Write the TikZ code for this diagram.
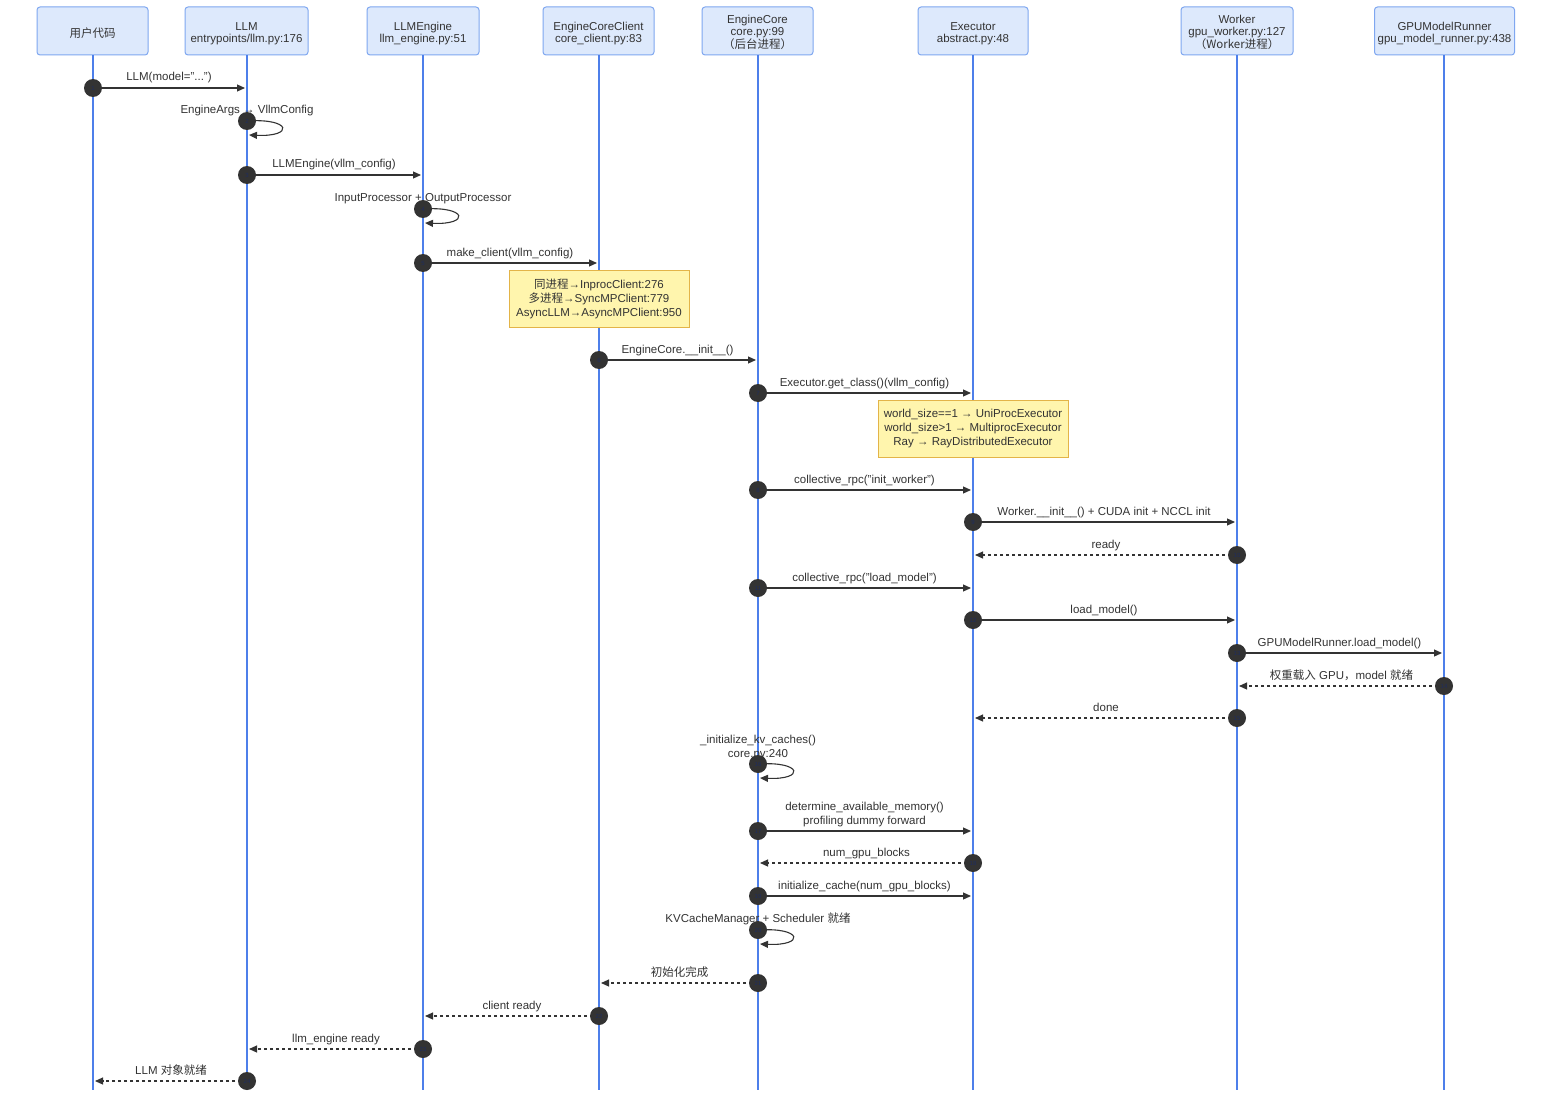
\documentclass[tikz,border=0pt]{standalone}
\usepackage{fontspec}
\setmainfont{Liberation Sans}
\newfontfamily\cjk{Noto Sans CJK SC}
\usetikzlibrary{arrows.meta}
\definecolor{hdrfill}{HTML}{DDE9FC}
\definecolor{hdrdraw}{HTML}{7FA7F0}
\definecolor{lifec}{HTML}{4D7FEA}
\definecolor{ink}{HTML}{333333}
\definecolor{notefill}{HTML}{FFF5AD}
\definecolor{notedraw}{HTML}{E3B448}
\definecolor{numc}{HTML}{1F2D5E}
\tikzset{
  hdr/.style={draw=hdrdraw, fill=hdrfill, rounded corners=3pt, line width=1pt, minimum height=48pt, inner sep=0pt},
  hdrtxt/.style={align=center, font=\fontsize{11.5}{12}\selectfont, text=ink, inner sep=0pt},
  life/.style={draw=lifec, line width=1.5pt},
  dotn/.style={circle, fill=ink, minimum size=18pt, inner sep=0pt, font=\fontsize{6}{6}\selectfont, text=numc},
  msg/.style={draw=ink, line width=1.1pt, -{Triangle[length=8pt,width=7pt]}},
  rep/.style={msg, dash pattern=on 3pt off 3pt},
  lbl/.style={font=\fontsize{11.5}{14}\selectfont, text=ink, align=center, inner sep=0pt, anchor=base},
  lbl2/.style={font=\fontsize{11.5}{14}\selectfont, text=ink, align=center, inner sep=0pt},
  note/.style={draw=notedraw, fill=notefill, line width=1pt, align=center, font=\fontsize{11.5}{14}\selectfont, text=ink, inner sep=0pt, minimum height=57pt}
}
\begin{document}
\begin{tikzpicture}[x=1pt,y=-1pt]
\useasboundingbox[fill=white] (0,0) rectangle (1568,1102);
% participants
\node[hdr, minimum width=111pt] (user) at (92.5,31) {};
\node[hdr, minimum width=123pt] (llm) at (246.5,31) {};
\node[hdr, minimum width=112pt] (eng) at (423,31) {};
\node[hdr, minimum width=111pt] (ecc) at (598.5,31) {};
\node[hdr, minimum width=111pt] (ec) at (757.5,31) {};
\node[hdr, minimum width=110pt] (exe) at (973,31) {};
\node[hdr, minimum width=112pt] (wk) at (1237,31) {};
\node[hdr, minimum width=140pt] (gmr) at (1444.5,31) {};
\node[hdrtxt] (userT) at ([yshift=-2pt]user.center) {{\cjk 用户代码}};
\node[hdrtxt] (llmT) at ([yshift=-2.5pt]llm.center) {LLM\\entrypoints/llm.py:176};
\node[hdrtxt] (engT) at ([yshift=-2.5pt]eng.center) {LLMEngine\\llm\_engine.py:51};
\node[hdrtxt] (eccT) at ([yshift=-2.5pt]ecc.center) {EngineCoreClient\\core\_client.py:83};
\node[hdrtxt] (ecT) at ([yshift=-1.5pt]ec.center) {EngineCore\\core.py:99\\{\cjk （后台进程）}};
\node[hdrtxt] (exeT) at ([yshift=-2.5pt]exe.center) {Executor\\abstract.py:48};
\node[hdrtxt] (wkT) at ([yshift=-1.5pt]wk.center) {Worker\\gpu\_worker.py:127\\{\cjk （Worker进程）}};
\node[hdrtxt] (gmrT) at ([yshift=-2.5pt]gmr.center) {GPUModelRunner\\gpu\_model\_runner.py:438};
% lifelines
\coordinate (userB) at (93,1090);
\coordinate (llmB) at (247,1090);
\coordinate (engB) at (423,1090);
\coordinate (eccB) at (599,1090);
\coordinate (ecB) at (758,1090);
\coordinate (exeB) at (973,1090);
\coordinate (wkB) at (1237,1090);
\coordinate (gmrB) at (1444,1090);
\draw[life] (userB |- user.south) -- (userB);
\draw[life] (llmB |- llm.south) -- (llmB);
\draw[life] (engB |- eng.south) -- (engB);
\draw[life] (eccB |- ecc.south) -- (eccB);
\draw[life] (ecB |- ec.south) -- (ecB);
\draw[life] (exeB |- exe.south) -- (exeB);
\draw[life] (wkB |- wk.south) -- (wkB);
\draw[life] (gmrB |- gmr.south) -- (gmrB);
% message coordinates
\coordinate (s1) at (93,88);    \coordinate (t1) at (245,88);
\coordinate (s2) at (247,121);  \coordinate (t2) at (249,135);
\coordinate (s3) at (247,175);  \coordinate (t3) at (421,175);
\coordinate (s4) at (423,209);  \coordinate (t4) at (425,223);
\coordinate (s5) at (423,263);  \coordinate (t5) at (597,263);
\coordinate (s6) at (599,360);  \coordinate (t6) at (756,360);
\coordinate (s7) at (758,393);  \coordinate (t7) at (971,393);
\coordinate (s8) at (758,490);  \coordinate (t8) at (971,490);
\coordinate (s9) at (973,522);  \coordinate (t9) at (1235,522);
\coordinate (s10) at (1237,555); \coordinate (t10) at (975,555);
\coordinate (s11) at (758,588); \coordinate (t11) at (971,588);
\coordinate (s12) at (973,620); \coordinate (t12) at (1235,620);
\coordinate (s13) at (1237,653); \coordinate (t13) at (1442,653);
\coordinate (s14) at (1444,686); \coordinate (t14) at (1239,686);
\coordinate (s15) at (1237,718); \coordinate (t15) at (975,718);
\coordinate (s16) at (758,764); \coordinate (t16) at (760,778);
\coordinate (s17) at (758,831); \coordinate (t17) at (971,831);
\coordinate (s18) at (973,863); \coordinate (t18) at (760,863);
\coordinate (s19) at (758,896); \coordinate (t19) at (971,896);
\coordinate (s20) at (758,930); \coordinate (t20) at (760,944);
\coordinate (s21) at (758,983); \coordinate (t21) at (601,983);
\coordinate (s22) at (599,1016); \coordinate (t22) at (425,1016);
\coordinate (s23) at (423,1049); \coordinate (t23) at (249,1049);
\coordinate (s24) at (247,1081); \coordinate (t24) at (95,1081);
% messages
\draw[msg] (s1) -- (t1) node[lbl, midway, yshift=7pt] {LLM(model="...")};
\draw[msg] (s2) .. controls +(45,-3) and +(45,2) .. (t2);
\node[lbl] (l2) at (247,114) {EngineArgs → VllmConfig};
\draw[msg] (s3) -- (t3) node[lbl, midway, yshift=7pt] {LLMEngine(vllm\_config)};
\draw[msg] (s4) .. controls +(45,-3) and +(45,2) .. (t4);
\node[lbl] (l4) at (423,202) {InputProcessor + OutputProcessor};
\draw[msg] (s5) -- (t5) node[lbl, midway, yshift=7pt] {make\_client(vllm\_config)};
\draw[msg] (s6) -- (t6) node[lbl, midway, yshift=7pt] {EngineCore.\_\_init\_\_()};
\draw[msg] (s7) -- (t7) node[lbl, midway, yshift=7pt] {Executor.get\_class()(vllm\_config)};
\draw[msg] (s8) -- (t8) node[lbl, midway, yshift=7pt] {collective\_rpc("init\_worker")};
\draw[msg] (s9) -- (t9) node[lbl, midway, yshift=7pt] {Worker.\_\_init\_\_() + CUDA init + NCCL init};
\draw[rep] (s10) -- (t10) node[lbl, midway, yshift=7pt] {ready};
\draw[msg] (s11) -- (t11) node[lbl, midway, yshift=7pt] {collective\_rpc("load\_model")};
\draw[msg] (s12) -- (t12) node[lbl, midway, yshift=7pt] {load\_model()};
\draw[msg] (s13) -- (t13) node[lbl, midway, yshift=7pt] {GPUModelRunner.load\_model()};
\draw[rep] (s14) -- (t14) node[lbl, midway, yshift=7pt] {{\cjk 权重载入} GPU{\cjk ，}model {\cjk 就绪}};
\draw[rep] (s15) -- (t15) node[lbl, midway, yshift=7pt] {done};
\draw[msg] (s16) .. controls +(45,-3) and +(45,2) .. (t16);
\node[lbl2] (l16) at (758,747.5) {\_initialize\_kv\_caches()\\core.py:240};
\draw[msg] (s17) -- (t17) node[lbl2, midway, yshift=16pt] {determine\_available\_memory()\\profiling dummy forward};
\draw[rep] (s18) -- (t18) node[lbl, midway, yshift=7pt] {num\_gpu\_blocks};
\draw[msg] (s19) -- (t19) node[lbl, midway, yshift=7pt] {initialize\_cache(num\_gpu\_blocks)};
\draw[msg] (s20) .. controls +(45,-3) and +(45,2) .. (t20);
\node[lbl] (l20) at (758,922) {KVCacheManager + Scheduler {\cjk 就绪}};
\draw[rep] (s21) -- (t21) node[lbl, midway, yshift=7pt] {{\cjk 初始化完成}};
\draw[rep] (s22) -- (t22) node[lbl, midway, yshift=7pt] {client ready};
\draw[rep] (s23) -- (t23) node[lbl, midway, yshift=7pt] {llm\_engine ready};
\draw[rep] (s24) -- (t24) node[lbl, midway, yshift=7pt] {LLM {\cjk 对象就绪}};
% notes
\node[note, minimum width=180pt] (n1) at (599,298.5) {{\cjk 同进程}→InprocClient:276\\{\cjk 多进程}→SyncMPClient:779\\AsyncLLM→AsyncMPClient:950};
\node[note, minimum width=190pt] (n2) at (973,428.5) {world\_size==1 → UniProcExecutor\\world\_size>1 → MultiprocExecutor\\Ray → RayDistributedExecutor};
% activation dots
\foreach \i in {1,...,24} { \node[dotn] (d\i) at (s\i) {\i}; }
\end{tikzpicture}
\end{document}
